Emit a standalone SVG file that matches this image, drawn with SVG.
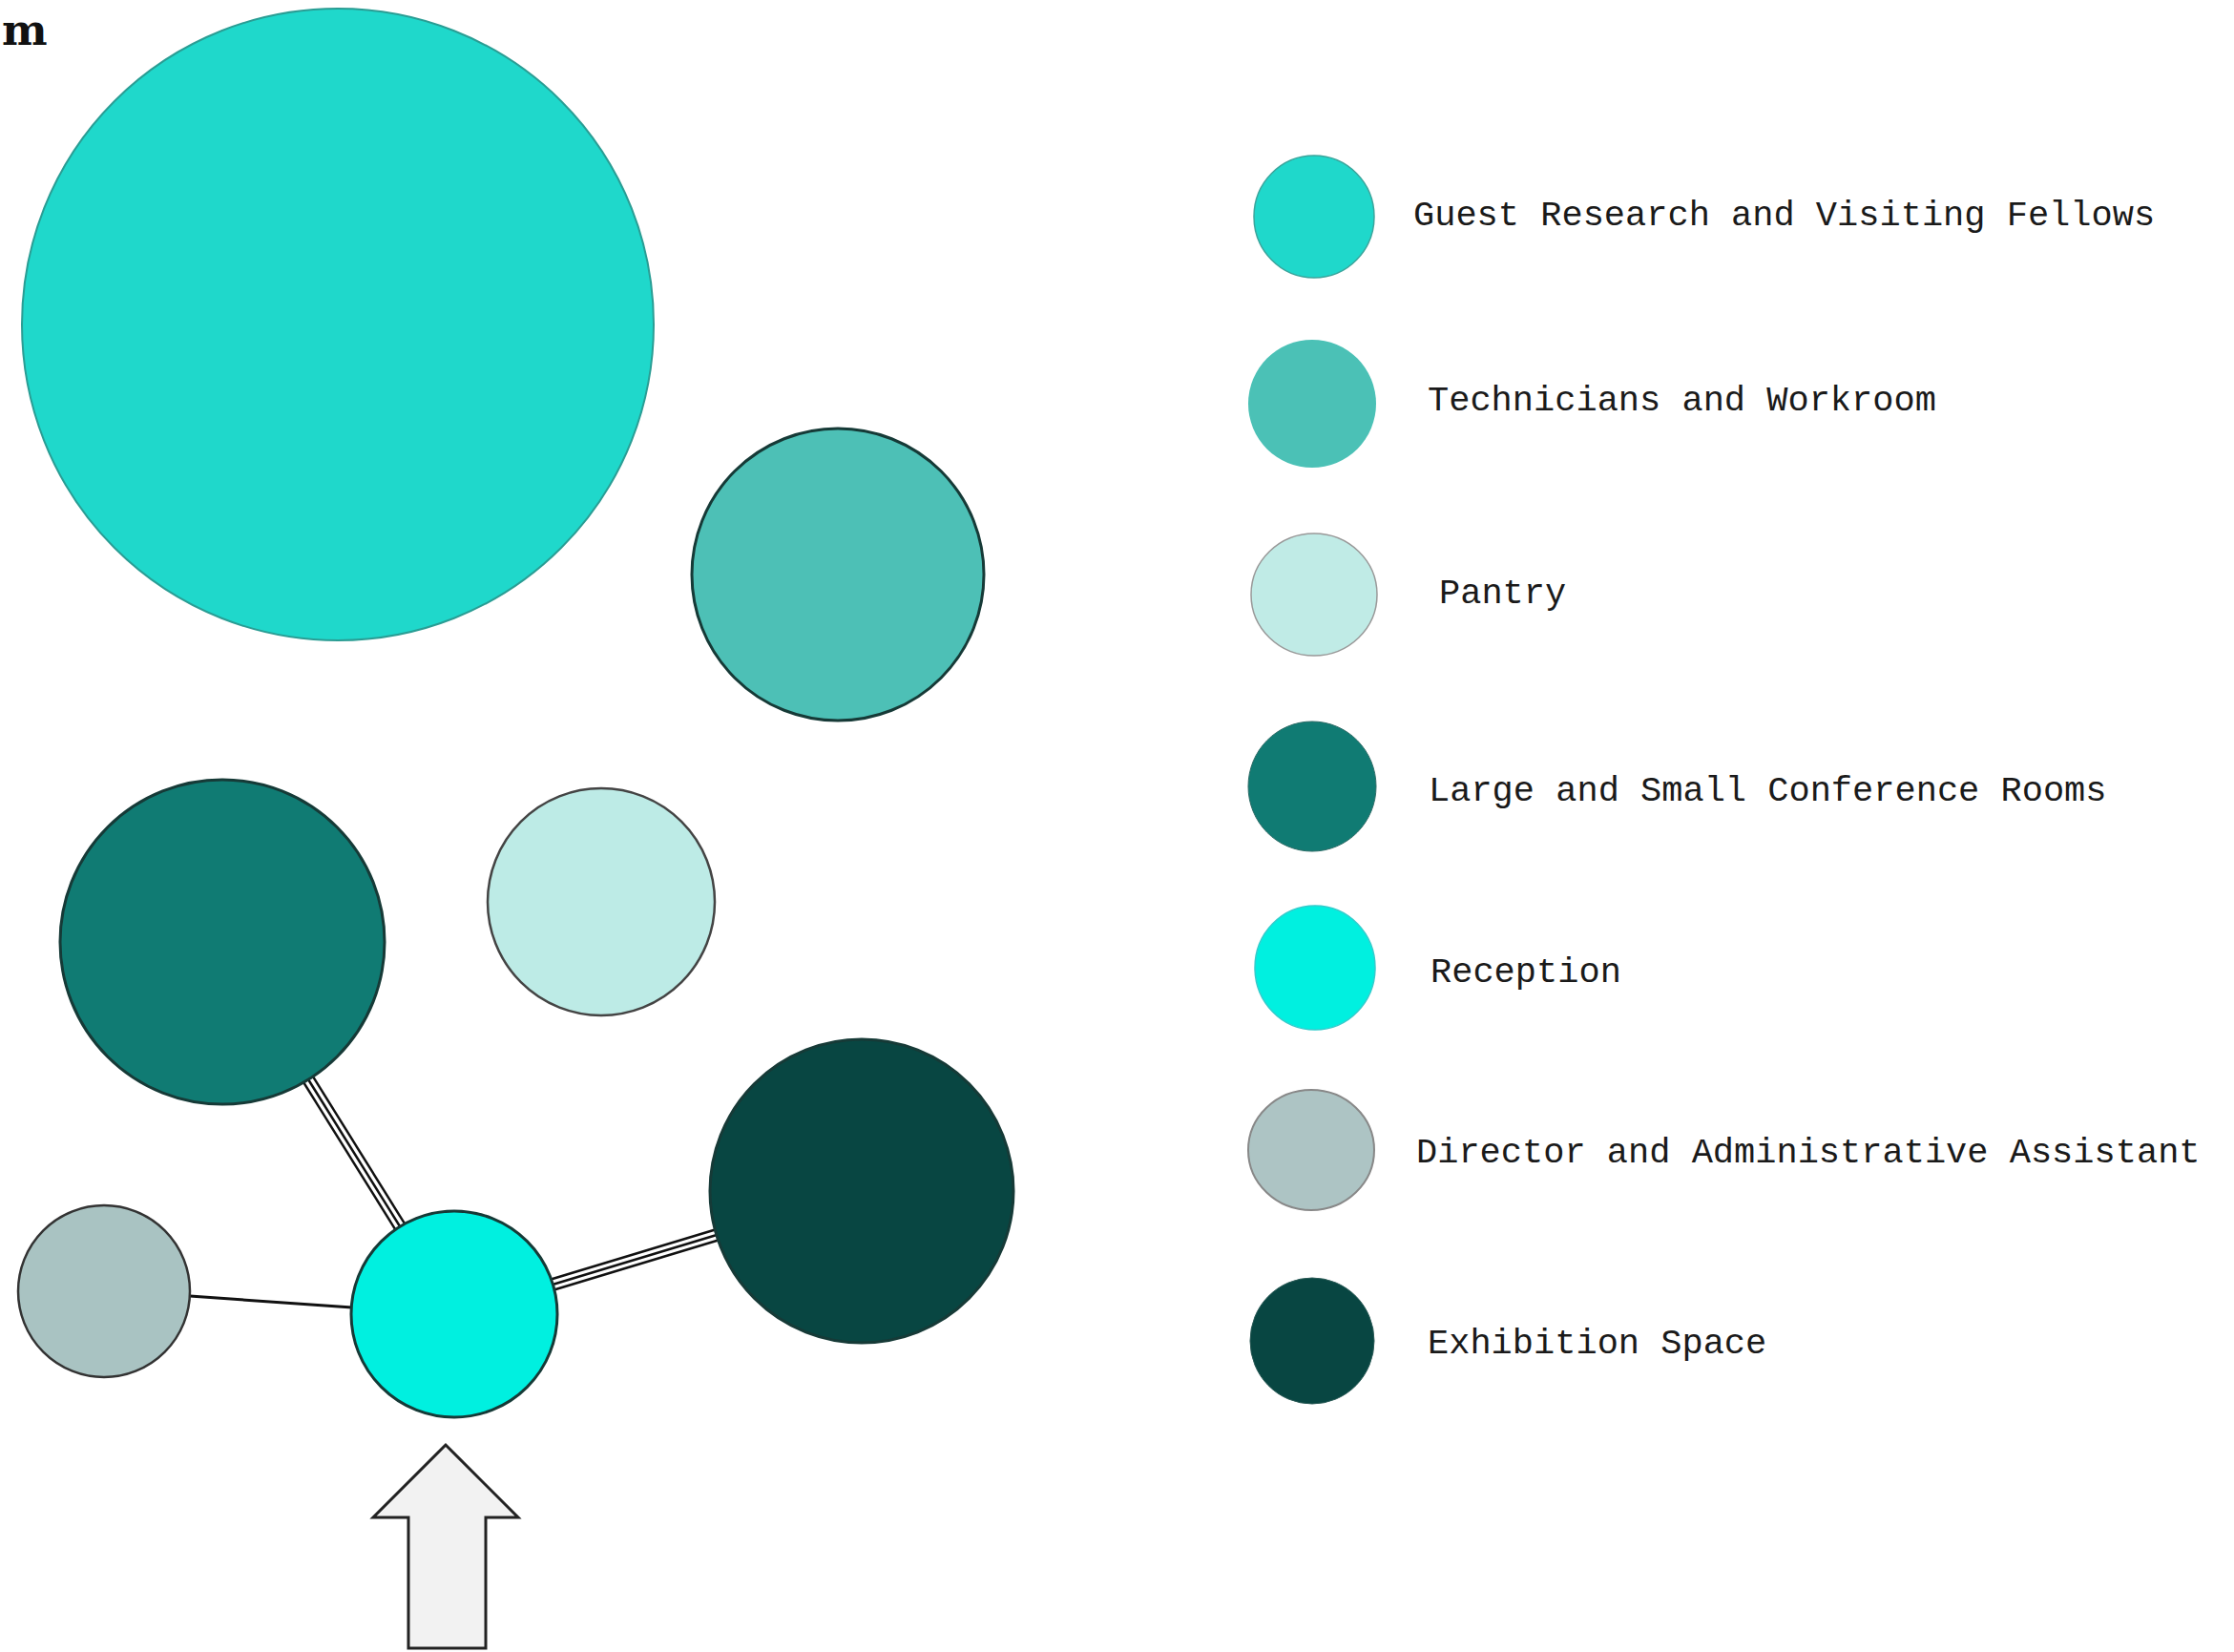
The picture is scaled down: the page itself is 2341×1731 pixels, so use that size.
<svg xmlns="http://www.w3.org/2000/svg" width="2341" height="1731" viewBox="0 0 2341 1731">
<style>
.lbl{font-family:"Liberation Mono","Courier New",monospace;font-size:37px;fill:#1a1a1a;}
.title{font-family:"DejaVu Serif","Liberation Serif",serif;font-size:45px;font-weight:bold;fill:#111;}
.node{stroke:#163a37;stroke-width:3;}
.t1{stroke:#111;stroke-width:14;fill:none;}
.t2{stroke:#fff;stroke-width:9;fill:none;}
.t3{stroke:#111;stroke-width:2.5;fill:none;}
.single{stroke:#111;stroke-width:3;fill:none;}
</style>
<rect width="2341" height="1731" fill="#fff"/>
<text class="title" x="2" y="47">m</text>
<g id="connectors">
<g id="conf-reception">
<line class="t1" x1="323" y1="1131" x2="419" y2="1285"/>
<line class="t2" x1="323" y1="1131" x2="419" y2="1285"/>
<line class="t3" x1="323" y1="1131" x2="419" y2="1285"/>
</g>
<g id="reception-exhibition">
<line class="t1" x1="579" y1="1346" x2="751" y2="1294"/>
<line class="t2" x1="579" y1="1346" x2="751" y2="1294"/>
<line class="t3" x1="579" y1="1346" x2="751" y2="1294"/>
</g>
<line id="director-reception" class="single" x1="199" y1="1358" x2="369" y2="1370"/>
</g>
<g id="guest"><circle cx="354" cy="340" r="331" fill="#1fd8cb" stroke="#2a9d94" stroke-width="2"/></g>
<g id="technicians"><circle class="node" cx="878" cy="602" r="153" fill="#4dc0b6"/></g>
<g id="pantry"><circle cx="630" cy="945" r="119" fill="#bdebe6" stroke="#444" stroke-width="2.5"/></g>
<g id="conference"><circle class="node" cx="233" cy="987" r="170" fill="#107b73"/></g>
<g id="exhibition"><circle class="node" cx="903" cy="1248" r="159" fill="#084642"/></g>
<g id="director"><circle cx="109" cy="1353" r="90" fill="#a9c3c2" stroke="#333" stroke-width="2.5"/></g>
<g id="reception"><circle class="node" cx="476" cy="1377" r="108" fill="#00f0e0"/></g>
<g id="entry-arrow"><path d="M467,1514 L391,1590 L428,1590 L428,1727 L509,1727 L509,1590 L543,1590 Z" fill="#f2f2f2" stroke="#222" stroke-width="3" stroke-linejoin="miter"/></g>
<g id="legend">
<g id="leg-guest"><ellipse cx="1377" cy="227" rx="63" ry="64" fill="#1fd8cb" stroke="#3aa59c" stroke-width="1.5"/><text class="lbl" x="1481" y="236">Guest Research and Visiting Fellows</text></g>
<g id="leg-tech"><ellipse cx="1375" cy="423" rx="67" ry="67" fill="#4bc1b6"/><text class="lbl" x="1496" y="430">Technicians and Workroom</text></g>
<g id="leg-pantry"><ellipse cx="1377" cy="623" rx="66" ry="64" fill="#c0ebe6" stroke="#999" stroke-width="1.5"/><text class="lbl" x="1508" y="632">Pantry</text></g>
<g id="leg-conf"><ellipse cx="1375" cy="824" rx="67" ry="68" fill="#107b73" stroke="#2d6b66" stroke-width="1"/><text class="lbl" x="1497" y="839">Large and Small Conference Rooms</text></g>
<g id="leg-reception"><ellipse cx="1378" cy="1014" rx="63" ry="65" fill="#00f0e0" stroke="#3cc" stroke-width="1.5"/><text class="lbl" x="1499" y="1029">Reception</text></g>
<g id="leg-director"><ellipse cx="1374" cy="1205" rx="66" ry="63" fill="#adc4c4" stroke="#888" stroke-width="2"/><text class="lbl" x="1484" y="1218">Director and Administrative Assistant</text></g>
<g id="leg-exhibition"><ellipse cx="1375" cy="1405" rx="65" ry="66" fill="#084642" stroke="#2a5a56" stroke-width="1"/><text class="lbl" x="1496" y="1418">Exhibition Space</text></g>
</g>
</svg>
